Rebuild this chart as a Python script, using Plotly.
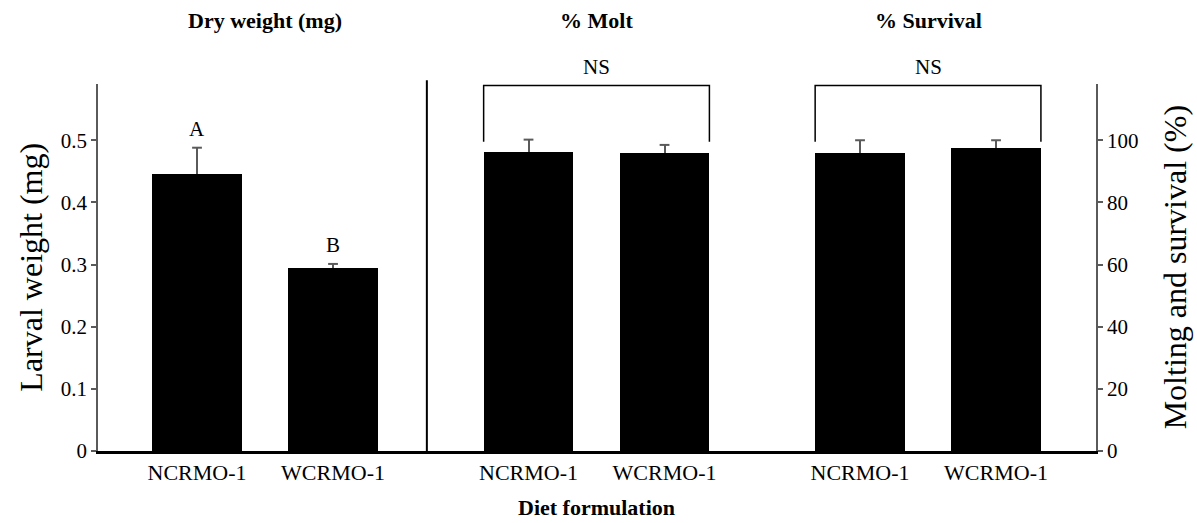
import plotly.graph_objects as go

# Diet formulations compared in each panel
diets = ["NCRMO-1", "WCRMO-1"]

# Panel 1: larval dry weight (mg), mean and upper SE
dry_weight = [0.445, 0.294]
dry_weight_err = [0.043, 0.007]
weight_letters = ["A", "B"]

# Panels 2 and 3: molting and survival (%), mean and upper SE
molt = [96.1, 95.9]
molt_err = [4.1, 2.6]
survival = [96.0, 97.6]
survival_err = [4.0, 2.4]

panel_titles = ["Dry weight (mg)", "% Molt", "% Survival"]
left_ticks = [0, 0.1, 0.2, 0.3, 0.4, 0.5]
left_ticktext = ["0", "0.1", "0.2", "0.3", "0.4", "0.5"]
right_ticks = [0, 20, 40, 60, 80, 100]

GROUP_STEP = 2.4375
BAR_WIDTH = 0.66
FONT = "Liberation Serif, Times New Roman, serif"
AXIS_GREY = "#5a5a5a"


def positions(g):
    return [g * GROUP_STEP + i for i in range(len(diets))]


def add_panel(fig, g, means, errs, axis):
    xs = positions(g)
    # bars with an upper whisker stem (no caps)
    fig.add_trace(go.Bar(x=xs, y=means, width=BAR_WIDTH, yaxis=axis,
                         marker=dict(color="black", line=dict(width=0)),
                         error_y=dict(type="data", array=errs, arrayminus=[0] * len(errs),
                                      symmetric=False, color=AXIS_GREY, thickness=2, width=0)))
    # short cap at the top of each whisker
    fig.add_trace(go.Scatter(x=xs, y=[m + e for m, e in zip(means, errs)], yaxis=axis,
                             mode="markers", hoverinfo="skip",
                             marker=dict(symbol="line-ew", size=7,
                                         line=dict(color=AXIS_GREY, width=2))))


fig = go.Figure()
add_panel(fig, 0, dry_weight, dry_weight_err, "y")
add_panel(fig, 1, molt, molt_err, "y2")
add_panel(fig, 2, survival, survival_err, "y2")

tickvals = positions(0) + positions(1) + positions(2)
ticktext = diets * 3


def label(**kw):
    base = dict(showarrow=False, xanchor="center", yanchor="middle")
    base.update(kw)
    return base


annotations = []
# significance letters above the weight bars
for x, y, e, t in zip(positions(0), dry_weight, dry_weight_err, weight_letters):
    annotations.append(label(x=x, y=y + e, xref="x", yref="y", text=t,
                             yanchor="bottom", yshift=5,
                             font=dict(size=21, color="black", family=FONT)))
# panel headings
for g, title in enumerate(panel_titles):
    annotations.append(label(x=g * GROUP_STEP + 0.5, y=1.172, xref="x", yref="paper",
                             text="<b>%s</b>" % title,
                             font=dict(size=22, color="black", family=FONT)))

shapes = []
# divider between weight panel and percentage panels
shapes.append(dict(type="line", xref="x", yref="paper", x0=1.69, x1=1.69, y0=0, y1=1.01,
                   line=dict(color="black", width=2)))
# "NS" brackets over molt and survival
for g in (1, 2):
    p = positions(g)
    xl = p[0] - BAR_WIDTH / 2
    xr = p[-1] + BAR_WIDTH / 2
    shapes.append(dict(type="path", xref="x", yref="y2",
                       path="M %f,99.5 L %f,117.6 L %f,117.6 L %f,99.5" % (xl, xl, xr, xr),
                       line=dict(color="black", width=1.5)))
    annotations.append(label(x=(xl + xr) / 2, y=1.047, xref="x", yref="paper", text="NS",
                             font=dict(size=21, color="black", family=FONT)))

# axis titles
annotations.append(label(x=-0.068, y=0.5, xref="paper", yref="paper", text="Larval weight (mg)",
                         textangle=-90, font=dict(size=32, color="black", family=FONT)))
annotations.append(label(x=1.079, y=0.5, xref="paper", yref="paper",
                         text="Molting and survival (%)",
                         textangle=-90, font=dict(size=32, color="black", family=FONT)))
annotations.append(label(x=GROUP_STEP + 0.5, y=-0.153, xref="x", yref="paper",
                         text="<b>Diet formulation</b>",
                         font=dict(size=22, color="black", family=FONT)))

fig.update_layout(
    width=1197, height=523,
    margin=dict(l=98, r=101, t=84, b=72),
    paper_bgcolor="white", plot_bgcolor="white",
    showlegend=False,
    font=dict(family=FONT, color="black"),
    xaxis=dict(range=[-0.728, 6.61], tickmode="array", tickvals=tickvals, ticktext=ticktext,
               showgrid=False, zeroline=False, showline=True, linecolor="black", linewidth=2.5,
               ticks="", tickfont=dict(size=22, color="black", family=FONT)),
    yaxis=dict(range=[0, 0.5905], tickmode="array", tickvals=left_ticks, ticktext=left_ticktext,
               showgrid=False, zeroline=False, showline=True, linecolor=AXIS_GREY, linewidth=1.5,
               ticks="outside", ticklen=5, tickwidth=1.5, tickcolor=AXIS_GREY,
               tickfont=dict(size=21, color="black", family=FONT)),
    yaxis2=dict(range=[0, 118.1], overlaying="y", side="right", tickmode="array",
                tickvals=right_ticks, showgrid=False, zeroline=False, showline=True,
                linecolor=AXIS_GREY, linewidth=1.5, ticks="outside", ticklen=5, tickwidth=1.5,
                tickcolor=AXIS_GREY, tickfont=dict(size=21, color="black", family=FONT)),
    annotations=annotations,
    shapes=shapes,
    bargap=0,
)

fig.write_html("out.html")
